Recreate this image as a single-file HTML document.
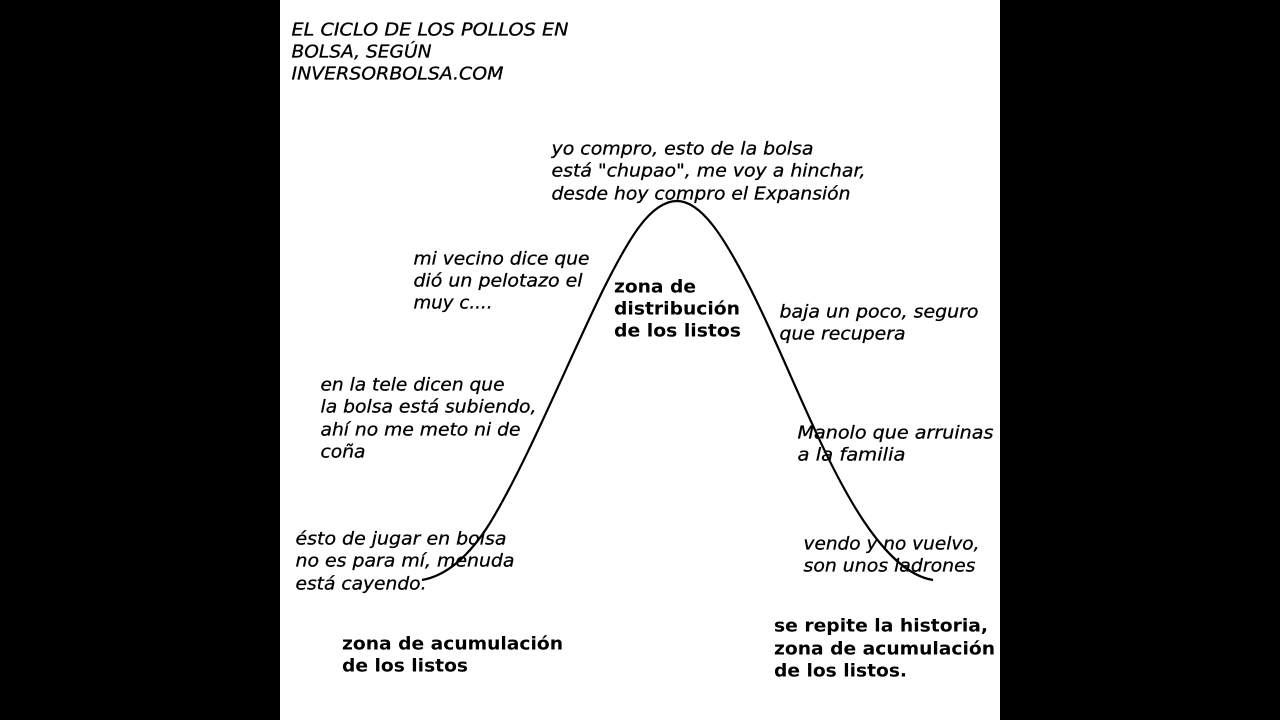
<!DOCTYPE html>
<html><head><meta charset="utf-8"><style>
html,body{margin:0;padding:0;background:#000;width:1280px;height:720px;overflow:hidden}
svg{display:block}
text{font-family:"DejaVu Sans",sans-serif;font-size:18px;fill:#000}
.i{font-style:oblique;stroke:#000;stroke-width:.3px}
.b{font-weight:bold}
</style></head><body>
<svg width="1280" height="720" viewBox="0 0 1280 720" xmlns="http://www.w3.org/2000/svg">
<rect x="0" y="0" width="1280" height="720" fill="#000"/>
<rect x="280" y="0" width="720" height="720" fill="#fff"/>
<path d="M422 580 C445 576 468 558 490 523 C527 462 565 368 603 290 C628 240 650 201 677 201 C702 201 725 240 746 280 C785 355 820 455 863 520 C885 553 908 576 933 580" fill="none" stroke="#000" stroke-width="2.2"/>
<g transform="translate(0.5,-0.5)">
<text class="i" x="291" y="36" textLength="277" lengthAdjust="spacingAndGlyphs">EL CICLO DE LOS POLLOS EN</text>
<text class="i" x="291" y="58" textLength="140" lengthAdjust="spacingAndGlyphs">BOLSA, SEGÚN</text>
<text class="i" x="291" y="80" textLength="212" lengthAdjust="spacingAndGlyphs">INVERSORBOLSA.COM</text>
<text class="i" x="551" y="155" textLength="262" lengthAdjust="spacingAndGlyphs">yo compro, esto de la bolsa</text>
<text class="i" x="551" y="177" textLength="314" lengthAdjust="spacingAndGlyphs">está "chupao", me voy a hinchar,</text>
<text class="i" x="551" y="200" textLength="299" lengthAdjust="spacingAndGlyphs">desde hoy compro el Expansión</text>
<text class="i" x="413" y="265" textLength="176" lengthAdjust="spacingAndGlyphs">mi vecino dice que</text>
<text class="i" x="413" y="287" textLength="169" lengthAdjust="spacingAndGlyphs">dió un pelotazo el</text>
<text class="i" x="413" y="309" textLength="79" lengthAdjust="spacingAndGlyphs">muy c....</text>
<text class="i" x="779" y="318" textLength="199" lengthAdjust="spacingAndGlyphs">baja un poco, seguro</text>
<text class="i" x="779" y="340" textLength="126" lengthAdjust="spacingAndGlyphs">que recupera</text>
<text class="i" x="320" y="391" textLength="184" lengthAdjust="spacingAndGlyphs">en la tele dicen que</text>
<text class="i" x="320" y="413" textLength="216" lengthAdjust="spacingAndGlyphs">la bolsa está subiendo,</text>
<text class="i" x="320" y="436" textLength="200" lengthAdjust="spacingAndGlyphs">ahí no me meto ni de</text>
<text class="i" x="320" y="458" textLength="45" lengthAdjust="spacingAndGlyphs">coña</text>
<text class="i" x="797" y="439" textLength="196" lengthAdjust="spacingAndGlyphs">Manolo que arruinas</text>
<text class="i" x="797" y="461" textLength="108" lengthAdjust="spacingAndGlyphs">a la familia</text>
<text class="i" x="295" y="545" textLength="211" lengthAdjust="spacingAndGlyphs">ésto de jugar en bolsa</text>
<text class="i" x="295" y="567" textLength="219" lengthAdjust="spacingAndGlyphs">no es para mí, menuda</text>
<text class="i" x="295" y="590" textLength="131" lengthAdjust="spacingAndGlyphs">está cayendo.</text>
<text class="i" x="803" y="550" textLength="176" lengthAdjust="spacingAndGlyphs">vendo y no vuelvo,</text>
<text class="i" x="803" y="572" textLength="172" lengthAdjust="spacingAndGlyphs">son unos ladrones</text>
</g>
<g transform="translate(0,-0.5)">
<text class="b" x="614" y="293" textLength="82" lengthAdjust="spacingAndGlyphs">zona de</text>
<text class="b" x="614" y="315" textLength="126" lengthAdjust="spacingAndGlyphs">distribución</text>
<text class="b" x="614" y="337" textLength="127" lengthAdjust="spacingAndGlyphs">de los listos</text>
<text class="b" x="342" y="650" textLength="221" lengthAdjust="spacingAndGlyphs">zona de acumulación</text>
<text class="b" x="342" y="672" textLength="126" lengthAdjust="spacingAndGlyphs">de los listos</text>
<text class="b" x="774" y="632" textLength="214" lengthAdjust="spacingAndGlyphs">se repite la historia,</text>
<text class="b" x="774" y="655" textLength="221" lengthAdjust="spacingAndGlyphs">zona de acumulación</text>
<text class="b" x="774" y="677" textLength="133" lengthAdjust="spacingAndGlyphs">de los listos.</text>
</g>
</svg>
</body></html>
